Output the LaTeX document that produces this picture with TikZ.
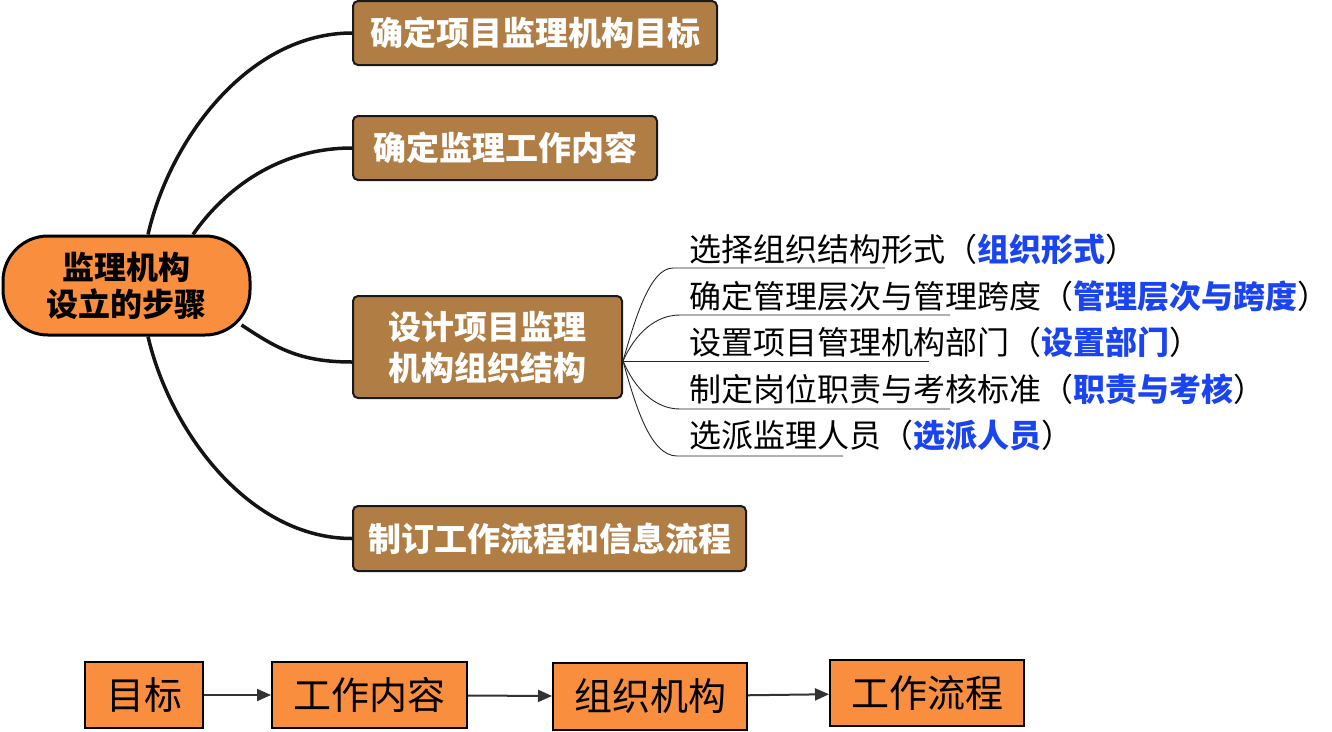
\documentclass[tikz,border=0pt]{standalone}
\usepackage{fontspec}
\usepackage{tikz}
\usetikzlibrary{arrows.meta,calc}
\newfontfamily\cjk{Noto Sans CJK SC}
\definecolor{pill}{HTML}{F98E3E}
\definecolor{bark}{HTML}{B07D45}
\definecolor{hint}{HTML}{1A44F2}
\newcommand{\kw}[1]{\textcolor{hint}{\bfseries #1}}

\begin{document}
\begin{tikzpicture}[x=1pt,y=-1pt,
  stepbox/.style={draw=black!90,line width=2pt,fill=bark,rounded corners=5pt,
    text=white,inner sep=0pt,align=center,font=\cjk\bfseries\fontsize{33}{41}\selectfont},
  flowbox/.style={draw=black,line width=2pt,fill=pill,inner sep=0pt,
    font=\cjk\fontsize{38}{40}\selectfont},
  item/.style={anchor=west,inner sep=0pt,font=\cjk\fontsize{32}{40}\selectfont},
  branch/.style={line width=3.5pt,black!92},
  twig/.style={line width=0.9pt,black!85},
  flow/.style={line width=2pt,black!80,-{Triangle[length=14pt,width=12pt]}}]
  \useasboundingbox (0,0) rectangle (1332,731);

  % centre and the four steps
  \node[draw,line width=3pt,fill=pill,rounded corners=45pt,minimum width=247pt,
    minimum height=99pt,inner sep=0pt,align=center,
    font=\cjk\bfseries\fontsize{32}{37}\selectfont] (steps) at (126.5,285.5) {监理机构\\设立的步骤};
  \node[stepbox,minimum width=364pt,minimum height=64pt] (goal) at (535,33) {确定项目监理机构目标};
  \node[stepbox,minimum width=304pt,minimum height=64pt] (content) at (505,148) {确定监理工作内容};
  \node[stepbox,minimum width=269pt,minimum height=102pt] (design) at (487.5,347) {设计项目监理\\机构组织结构};
  \node[stepbox,minimum width=393pt,minimum height=65pt] (process) at (549.5,538.5) {制订工作流程和信息流程};

  \draw[branch] ([xshift=21.5pt]steps.north) .. controls +(22,-96) and +(-103,0) .. (goal.west);
  \draw[branch] ([xshift=66.5pt]steps.north) .. controls +(32,-46) and +(-73,0) .. (content.west);
  \draw[branch] ($(steps.east)+(-10,39.5)$) .. controls +(35,23) and +(-53,0) .. ([yshift=-15pt]design.west);
  \draw[branch] ([xshift=21.5pt]steps.south) .. controls +(22,95) and +(-103,0) .. (process.west);

  % sub items of the design step
  \coordinate (root) at ([yshift=-14pt]design.east);
  \node[item] (form) at (689,249) {选择组织结构形式（\kw{组织形式}）};
  \node[item] (span) at (689,296) {确定管理层次与管理跨度（\kw{管理层次与跨度}）};
  \node[item] (dept) at (689,342) {设置项目管理机构部门（\kw{设置部门}）};
  \node[item] (duty) at (689,389) {制定岗位职责与考核标准（\kw{职责与考核}）};
  \node[item] (staff) at (689,436) {选派监理人员（\kw{选派人员}）};

  \coordinate (formA) at (673,268);  \coordinate (formB) at (885,268);
  \coordinate (spanA) at (680,315);  \coordinate (spanB) at (950,315);
  \coordinate (deptB) at (929,361);
  \coordinate (dutyA) at (680,409);  \coordinate (dutyB) at (950,409);
  \coordinate (staffA) at (677,456); \coordinate (staffB) at (843,456);

  \draw[twig] (root) .. controls +(12,-42) and +(-23,0) .. (formA) -- (formB);
  \draw[twig] (root) .. controls +(12,-27) and +(-25,0) .. (spanA) -- (spanB);
  \draw[twig] (root) -- (deptB);
  \draw[twig] (root) .. controls +(12,28) and +(-25,0) .. (dutyA) -- (dutyB);
  \draw[twig] (root) .. controls +(12,43) and +(-27,0) .. (staffA) -- (staffB);

  % the chain at the bottom
  \node[flowbox,minimum width=118pt,minimum height=66pt] (aim) at (144,695) {目标};
  \node[flowbox,minimum width=195pt,minimum height=66pt] (work) at (369.5,695) {工作内容};
  \node[flowbox,minimum width=194pt,minimum height=67pt] (org) at (650,696.5) {组织机构};
  \node[flowbox,minimum width=194pt,minimum height=66pt] (proc) at (927,693) {工作流程};

  \draw[flow] (aim) -- (work);
  \draw[flow] (work) -- (org);
  \draw[flow] (org) -- (proc);
\end{tikzpicture}
\end{document}
